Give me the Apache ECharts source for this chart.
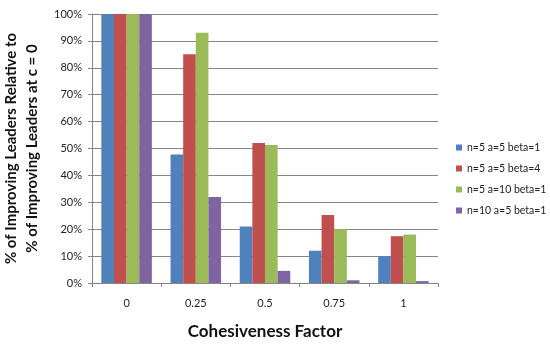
<!DOCTYPE html>
<html><head><meta charset="utf-8">
<script src="https://cdn.jsdelivr.net/npm/echarts@6/dist/echarts.min.js"></script>
<style>html,body{margin:0;padding:0;background:#fff}#c{width:550px;height:344px}</style>
</head><body><div id="c"></div>
<script>
const categories = ['0', '0.25', '0.5', '0.75', '1'];
const seriesNames = ['n=5 a=5 beta=1', 'n=5 a=5 beta=4', 'n=5 a=10 beta=1', 'n=10 a=5 beta=1'];
const s1 = [100, 47.8, 21, 12, 10];
const s2 = [100, 85, 52, 25.3, 17.4];
const s3 = [100, 93, 51.3, 20, 18];
const s4 = [100, 32, 4.5, 1, 0.7];
const colors = ['#4F81BD', '#C0504D', '#9BBB59', '#8064A2'];
const yTicks = [0, 10, 20, 30, 40, 50, 60, 70, 80, 90, 100];

const font = 'Lato, "Open Sans", sans-serif';
const chart = echarts.init(document.getElementById('c'));
const data = [s1, s2, s3, s4];
chart.setOption({
  animation: false,
  color: colors,
  textStyle: {fontFamily: font},
  grid: {left: 92, right: 112, top: 14, bottom: 61, outerBoundsMode: 'none', containLabel: false},
  legend: {
    orient: 'vertical', left: 451, top: 136,
    itemWidth: 6, itemHeight: 6, itemGap: 8,
    icon: 'rect',
    textStyle: {fontSize: 10.5, color: '#222', fontFamily: font, lineHeight: 13},
    data: seriesNames
  },
  xAxis: {
    type: 'category', data: categories,
    axisLine: {lineStyle: {color: '#868686'}},
    axisTick: {show: true, length: 4, lineStyle: {color: '#868686'}},
    axisLabel: {fontSize: 11, color: '#222', margin: 15},
    name: 'Cohesiveness Factor', nameLocation: 'middle', nameGap: 40,
    nameTextStyle: {fontSize: 17, fontWeight: 'bold', color: '#111'}
  },
  yAxis: {
    type: 'value', min: yTicks[0], max: yTicks[yTicks.length - 1], interval: 10,
    axisLine: {show: true, lineStyle: {color: '#868686'}},
    axisTick: {show: true, length: 4, lineStyle: {color: '#868686'}},
    splitLine: {lineStyle: {color: '#868686'}},
    axisLabel: {fontSize: 11, color: '#222', formatter: v => v + '%', margin: 10},
    name: '% of Improving Leaders Relative to\n% of Improving Leaders at c = 0',
    nameLocation: 'middle', nameRotate: 90, nameGap: 44,
    nameTextStyle: {fontSize: 15, fontWeight: 'bold', color: '#111', lineHeight: 21}
  },
  series: seriesNames.map((n, i) => ({
    name: n, type: 'bar', data: data[i],
    barGap: '0%', barCategoryGap: '27%'
  }))
});
</script></body></html>
